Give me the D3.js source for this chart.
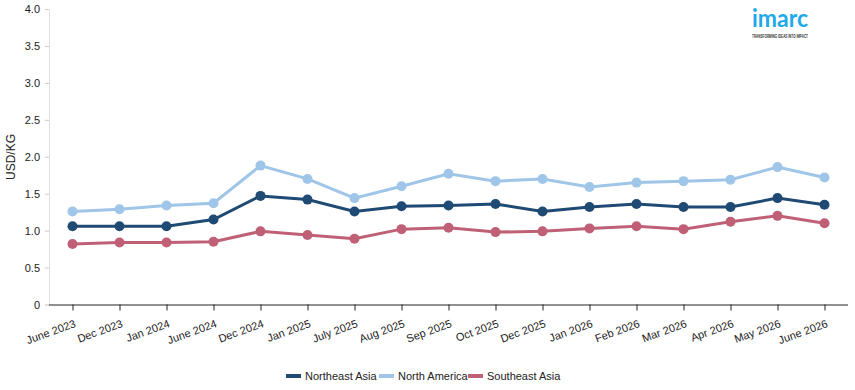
<!DOCTYPE html>
<html><head><meta charset="utf-8">
<script src="https://cdn.jsdelivr.net/npm/d3@7"></script>
<style>body{margin:0;background:#fff;font-family:"Liberation Sans",Arial,sans-serif;}</style>
</head><body><svg id="c" width="855" height="390"></svg>
<script>
const categories = ["June 2023","Dec 2023","Jan 2024","June 2024","Dec 2024","Jan 2025","July 2025","Aug 2025","Sep 2025","Oct 2025","Dec 2025","Jan 2026","Feb 2026","Mar 2026","Apr 2026","May 2026","June 2026"];
const northeastAsia = [1.06,1.06,1.06,1.15,1.47,1.42,1.26,1.33,1.34,1.36,1.26,1.32,1.36,1.32,1.32,1.44,1.35];
const northAmerica = [1.26,1.29,1.34,1.37,1.88,1.70,1.44,1.60,1.77,1.67,1.70,1.59,1.65,1.67,1.69,1.86,1.72];
const southeastAsia = [0.82,0.84,0.84,0.85,0.99,0.94,0.89,1.02,1.04,0.98,0.99,1.03,1.06,1.02,1.12,1.20,1.10];
const yTicks = [0,0.5,1.0,1.5,2.0,2.5,3.0,3.5,4.0];
const seriesNames = ["Northeast Asia","North America","Southeast Asia"];
const seriesColors = ["#1f4a73","#9fc5e8","#bf6077"];
const yLabel = "USD/KG";

(function(){
const series = [northeastAsia, northAmerica, southeastAsia].map((v,i)=>({name:seriesNames[i],color:seriesColors[i],values:v}));
const svg = d3.select("#c");
const mLeft=49, mRight=848, mTop=9, mBottom=304.5;
const x = d3.scalePoint().domain(categories).range([mLeft,mRight]).padding(0.5);
const y = d3.scaleLinear().domain([0,4]).range([mBottom,mTop]);

// y axis
const ya = svg.append("g").attr("transform",`translate(${mLeft},0)`)
  .call(d3.axisLeft(y).tickValues(yTicks).tickSize(4).tickFormat(d=>d===0?"0":d3.format(".1f")(d)));
ya.select(".domain").attr("stroke","#e0e0e0");
ya.selectAll(".tick line").attr("stroke","#ccc");
ya.selectAll("text").attr("font-size","11px").attr("fill","#222").attr("font-family","Liberation Sans, Arial, sans-serif").attr("dx","-2");

// x axis
const xa = svg.append("g").attr("transform",`translate(0,${mBottom})`)
  .call(d3.axisBottom(x).tickSize(6).tickSizeOuter(0));
xa.select(".domain").attr("stroke","#222").attr("d",`M${mLeft},0.5H${mRight}`);
xa.selectAll(".tick line").attr("stroke","#222");
xa.selectAll("text").attr("font-size","11px").attr("fill","#222").attr("font-family","Liberation Sans, Arial, sans-serif")
  .attr("text-anchor","end").attr("transform","translate(-1,10) rotate(-20)").attr("dy","0.35em");

// y label
svg.append("text").attr("transform",`translate(15,157) rotate(-90)`).attr("text-anchor","middle")
  .attr("font-size","12px").attr("fill","#222").text(yLabel);

const line = d3.line().x((d,i)=>x(categories[i])).y(d=>y(d));
series.forEach(s=>{
  svg.append("path").datum(s.values).attr("d",line).attr("fill","none").attr("stroke",s.color).attr("stroke-width",3);
  svg.selectAll(null).data(s.values).enter().append("circle")
    .attr("cx",(d,i)=>x(categories[i])).attr("cy",d=>y(d)).attr("r",5).attr("fill",s.color);
});

// legend
const lx=[286,379,468];
series.forEach((s,i)=>{
  svg.append("rect").attr("x",lx[i]).attr("y",374).attr("width",15).attr("height",4).attr("fill",s.color);
  svg.append("text").attr("x",lx[i]+19).attr("y",380).attr("font-size","11px").attr("fill","#222").text(s.name);
});

// logo
svg.append("text").attr("x",752).attr("y",27).attr("font-size","25px").attr("font-weight","bold").attr("fill","#1fa9e9")
  .attr("font-family","Lato, Arial, sans-serif").attr("textLength",56).attr("lengthAdjust","spacingAndGlyphs").text("imarc");
svg.append("text").attr("x",752).attr("y",37.5).attr("font-size","4.5px").attr("font-weight","bold").attr("fill","#333")
  .attr("textLength",56).attr("lengthAdjust","spacingAndGlyphs").text("TRANSFORMING IDEAS INTO IMPACT");
})();
</script></body></html>
